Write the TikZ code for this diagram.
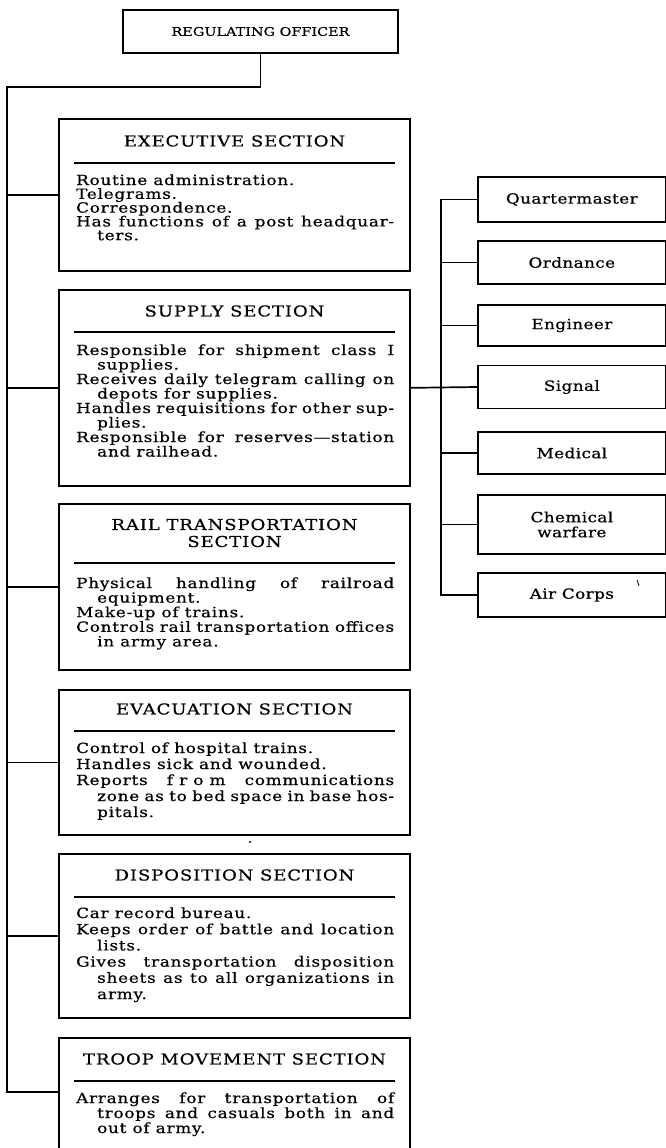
\documentclass[tikz,border=0pt]{standalone}
\usepackage{fontspec}
\setmainfont{DejaVu Serif}
\newfontfamily\bodyfont[FakeStretch=1.2,LetterSpace=5.5,FakeBold=0.6]{DejaVu Serif}
\newfontfamily\headfont[FakeStretch=1.2,LetterSpace=6,FakeBold=0.5]{DejaVu Serif}
\newfontfamily\rofont[FakeStretch=1.2,LetterSpace=0,FakeBold=0.5]{DejaVu Serif}
\newfontfamily\sidefont[FakeStretch=1.2,LetterSpace=3,FakeBold=0.6]{DejaVu Serif}
\newcommand{\entry}[1]{\hangindent=21pt\hangafter=1\relax #1\par}
\tikzset{
  box/.style={draw, line width=1.7pt, inner sep=0pt},
  secbox/.style={box, anchor=north west, minimum width=351pt},
  sidebox/.style={box, anchor=west, minimum width=188pt, align=center,
    font=\sidefont\fontsize{14}{15}\selectfont},
  head/.style={inner sep=0pt, align=center, font=\headfont\fontsize{15}{17}\selectfont},
  body/.style={anchor=base west, text width=318pt, inner sep=0pt, align=justify,
    font=\bodyfont\fontsize{14}{#1}\selectfont,
    execute at begin node={\setlength{\parindent}{0pt}\rightskip=0pt\relax\leftskip=0pt\relax\parfillskip=0pt plus 1fil\relax\hyphenpenalty=10000\exhyphenpenalty=10000\tolerance=10000\hbadness=10000\hfuzz=20pt}},
  body/.default=14,
  conn/.style={line width=1.7pt},
  rulel/.style={line width=1.5pt}
}
\begin{document}
\begin{tikzpicture}[x=1pt,y=-1pt]
\useasboundingbox (0,0) rectangle (666,1148);
\clip (0,0) rectangle (666,1148);

% top
\node[box, minimum width=275pt, minimum height=43pt, font=\rofont\fontsize{12}{14}\selectfont] (ro) at (260.5,31.5) {REGULATING OFFICER};

% section boxes
\node[secbox, minimum height=152pt] (exec) at (58,118) {};
\node[secbox, minimum height=196pt] (supply) at (58,289) {};
\node[secbox, minimum height=166pt] (rail) at (58,503) {};
\node[secbox, minimum height=145pt] (evac) at (58,689) {};
\node[secbox, minimum height=164pt] (disp) at (58,853) {};
\node[secbox, minimum height=140pt] (troop) at (58,1037) {};

% headers
\node[head] (h1) at (234.5,141) {EXECUTIVE SECTION};
\node[head] (h2) at (234.5,311) {SUPPLY SECTION};
\node[head] (h3) at (234.5,533) {RAIL TRANSPORTATION\\SECTION};
\node[head] (h4) at (234.5,709) {EVACUATION SECTION};
\node[head] (h5) at (234.5,875) {DISPOSITION SECTION};
\node[head] (h6) at (234.5,1059) {TROOP MOVEMENT SECTION};

% rules
\draw[rulel] (74,163) -- (395,163);
\draw[rulel] (74,332) -- (395,332);
\draw[rulel] (74,563) -- (395,563);
\draw[rulel] (74,731) -- (395,731);
\draw[rulel] (74,897) -- (395,897);
\draw[rulel] (74,1081) -- (395,1081);

% bodies
\node[body=13.8] (b1) at (76,185) {%
\entry{Routine administration.}
\entry{Telegrams.}
\entry{Correspondence.}
\entry{Has functions of a post headquar-\linebreak ters.}};
\node[body=14.5] (b2) at (76,355) {%
\entry{Responsible for shipment class I\linebreak supplies.}
\entry{Receives daily telegram calling on\linebreak depots for supplies.}
\entry{Handles requisitions for other sup-\linebreak plies.}
\entry{Responsible for reserves—station\linebreak and railhead.}};
\node[body=14.6] (b3) at (76,588) {%
\entry{Physical handling of railroad\linebreak equipment.}
\entry{Make-up of trains.}
\entry{Controls rail transportation offices\linebreak in army area.}};
\node[body=16] (b4) at (76,753) {%
\entry{Control of hospital trains.}
\entry{Handles sick and wounded.}
\entry{Reports\hfill f~r~o~m\hfill communications\linebreak zone as to bed space in base hos-\linebreak pitals.}};
\node[body=16.2] (b5) at (76,918) {%
\entry{Car record bureau.}
\entry{Keeps order of battle and location\linebreak lists.}
\entry{Gives transportation disposition\linebreak sheets as to all organizations in\linebreak army.}};
\node[body=15] (b6) at (76,1103) {%
\entry{Arranges for transportation of\linebreak troops and casuals both in and\linebreak out of army.}};

% side boxes
\node[sidebox, minimum height=45pt] (qm) at (477,199.5) {Quartermaster};
\node[sidebox, minimum height=43pt] (ord) at (477,262.5) {Ordnance};
\node[sidebox, minimum height=41pt] (eng) at (477,325.5) {Engineer};
\node[sidebox, minimum height=43pt] (sig) at (477,387) {Signal};
\node[sidebox, minimum height=42pt] (med) at (477,453) {Medical};
\node[sidebox, minimum height=59pt] (chem) at (477,524.5) {Chemical\\warfare};
\node[sidebox, minimum height=44pt] (air) at (477,595) {Air Corps};

% trunk connectors
\coordinate (tt) at (7,87);
\coordinate (tb) at (7,1092);
\draw[conn] (ro.south) |- (tt) -- (tb) -- (tb -| troop.west);
\foreach \n in {exec,supply,rail,evac,disp}
  \draw[conn] (\n.west) -- (\n.west -| tt);

% right bus
\coordinate (bus) at (441,0);
\draw[conn] (qm.west) -- (qm.west -| bus) -- (air.west -| bus) -- (air.west);
\foreach \n in {ord,eng,med,chem}
  \draw[conn] (\n.west) -- (\n.west -| bus);
\draw[conn] (supply.east) -- (sig.west);

% print specks
\draw[line width=0.8pt] (637,580) -- (639,586);
\fill (250,842) circle (1.2pt);
\end{tikzpicture}
\end{document}
